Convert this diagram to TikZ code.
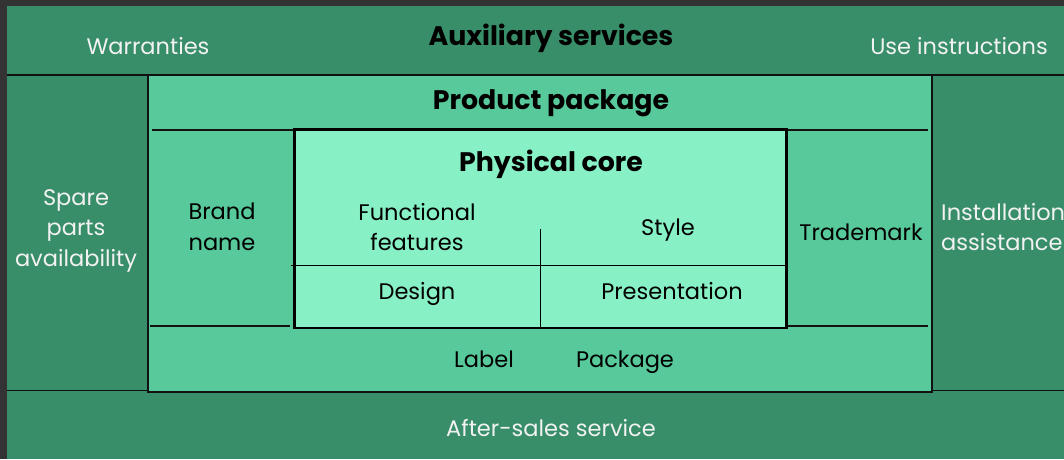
\documentclass[tikz,border=0pt]{standalone}
\usepackage{fontspec}
\setmainfont{Poppins}
\definecolor{bgdark}{HTML}{333333}
\definecolor{outergreen}{HTML}{388E69}
\definecolor{prodgreen}{HTML}{57C99B}
\definecolor{coregreen}{HTML}{87F0C4}
\definecolor{lighttext}{HTML}{F2F2F2}
\definecolor{linecol}{HTML}{111111}
\tikzset{
  thinline/.style={draw=linecol, line width=1.5pt},
  coreline/.style={draw=black, line width=1.2pt},
  outertext/.style={text=lighttext, font=\fontsize{22.5}{30.2}\selectfont, align=center, inner sep=0pt, anchor=base},
  innertext/.style={text=black, font=\fontsize{22.5}{30.2}\selectfont, align=center, inner sep=0pt, anchor=base},
  titletext/.style={text=black, font=\fontsize{26.8}{30}\selectfont\bfseries, inner sep=0pt, anchor=base},
}
\begin{document}
\begin{tikzpicture}[x=1pt,y=-1pt]
\useasboundingbox (0,0) rectangle (1064,459);
\fill[bgdark] (0,0) rectangle (1064,459);
\fill[outergreen] (7,6) rectangle (1064,459);
% outer separators
\draw[thinline] (7,75) -- (148,75);
\draw[thinline] (932,75) -- (1064,75);
\draw[thinline] (7,390.5) -- (148,390.5);
\draw[thinline] (932,390.5) -- (1064,390.5);
% product package
\filldraw[fill=prodgreen, thinline] (148,75) rectangle (932,392);
\draw[thinline] (152,130) -- (928,130);
\draw[thinline] (150,326) -- (290,326);
\draw[thinline] (787,326) -- (928,326);
% physical core
\filldraw[fill=coregreen, draw=black, line width=2.8pt] (294.5,129.5) rectangle (786.5,328);
\draw[coreline] (291,265.5) -- (785,265.5);
\draw[coreline] (540.5,229) -- (540.5,327);
% texts (multi-line nodes: coordinate is the baseline of the last line)
\node[titletext] (aux) at (551,45.7) {Auxiliary services};
\node[outertext] (warr) at (148,54) {Warranties};
\node[outertext] (useinst) at (959,54) {Use instructions};
\node[titletext] (pp) at (551,109.3) {Product package};
\node[titletext] (pc) at (551,171.7) {Physical core};
\node[outertext] (spare) at (76,266) {Spare\\parts\\availability};
\node[innertext] (brand) at (222,250) {Brand\\name};
\node[innertext] (func) at (417,250.5) {Functional\\features};
\node[innertext] (style) at (668,235.3) {Style};
\node[innertext] (design) at (417,299.3) {Design};
\node[innertext] (pres) at (672,299) {Presentation};
\node[innertext] (label) at (484,367) {Label};
\node[innertext] (pack) at (625,367) {Package};
\node[innertext] (tm) at (861,240) {Trademark};
\node[outertext, align=left, anchor=base west] (inst) at (941,250.5) {Installation\\assistance};
\node[outertext] (after) at (551,436) {After-sales service};
\end{tikzpicture}
\end{document}
